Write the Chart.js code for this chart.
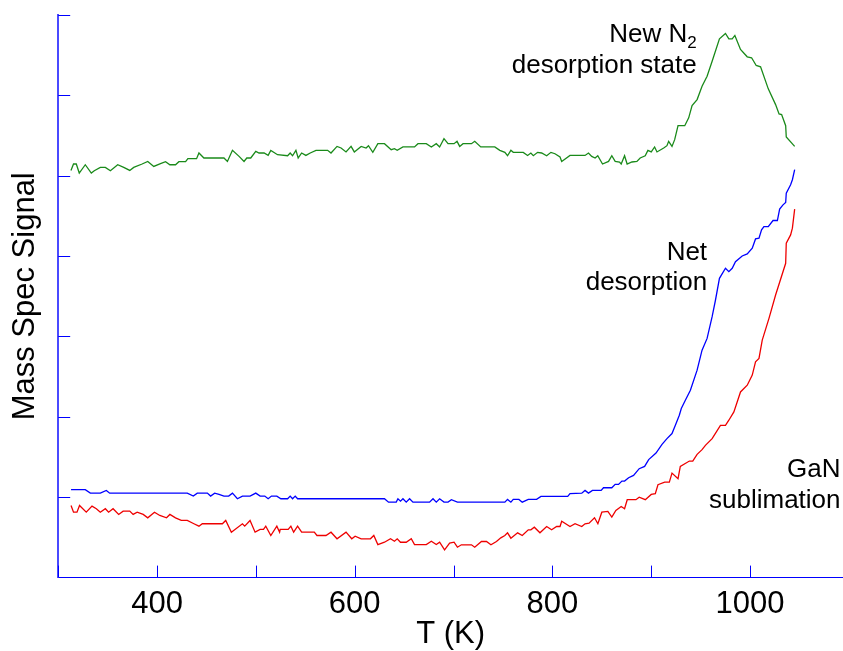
<!DOCTYPE html>
<html>
<head>
<meta charset="utf-8">
<script src="https://cdn.jsdelivr.net/npm/chart.js@4/dist/chart.umd.min.js"></script>
<style>
  html, body { margin: 0; padding: 0; background: #fff; }
  #wrap { width: 843px; height: 651px; }
</style>
</head>
<body>
<div id="wrap"><canvas id="tpdChart"></canvas></div>
<script>
// N2 desorption state (green)
const n2StateT = [312.9,315.5,318.3,321.3,327.4,333.5,336.5,342.6,347.7,352.8,
  360.2,366.3,372.4,376.4,384.9,390.6,396.7,403.5,408.6,413.0,
  418.7,422.1,428.9,431.2,440.0,442.4,447.4,467.7,471.2,476.3,
  483.0,488.0,490.8,494.8,499.9,503.2,508.3,512.4,515.1,521.9,
  532.1,534.7,537.1,540.5,542.8,546.3,550.6,555.0,560.8,572.6,
  576.0,582.1,586.2,591.2,596.3,599.6,606.5,611.5,613.9,618.3,
  623.4,630.1,636.9,640.2,643.0,648.8,660.5,664.0,672.4,677.5,
  682.5,685.9,690.3,694.4,700.5,703.5,706.2,709.6,718.1,721.4,
  727.5,741.7,746.8,751.9,754.6,758.0,760.4,770.5,774.9,778.2,
  780.7,785.0,789.1,794.2,798.5,802.6,807.7,809.4,817.8,833.0,
  836.5,839.8,843.2,845.9,850.7,856.8,860.1,863.5,867.9,869.6,
  873.0,875.6,880.4,885.5,888.8,893.9,896.6,900.0,903.4,905.8,
  912.6,915.9,917.6,921.0,923.7,927.1,933.9,937.9,941.3,946.4,
  951.4,956.5,961.6,969.0,975.1,978.5,981.9,984.6,990.3,997.1,
  1001.5,1006.2,1010.6,1018.4,1025.8,1029.3,1031.9,1036.0,1036.6,1045.1];
const n2StateSignal = [5.066,5.146,5.146,5.034,5.137,5.034,5.062,5.104,5.104,5.062,
  5.137,5.104,5.066,5.104,5.146,5.178,5.116,5.150,5.175,5.137,
  5.137,5.175,5.175,5.212,5.212,5.283,5.221,5.221,5.178,5.316,
  5.241,5.178,5.221,5.221,5.303,5.283,5.283,5.253,5.316,5.262,
  5.249,5.283,5.249,5.316,5.221,5.283,5.253,5.283,5.316,5.316,
  5.283,5.365,5.345,5.296,5.365,5.296,5.365,5.345,5.374,5.291,
  5.399,5.399,5.324,5.337,5.316,5.358,5.358,5.399,5.399,5.358,
  5.399,5.358,5.461,5.399,5.399,5.428,5.365,5.399,5.399,5.428,
  5.358,5.358,5.316,5.291,5.249,5.316,5.291,5.291,5.253,5.283,
  5.249,5.291,5.283,5.249,5.291,5.274,5.233,5.178,5.253,5.253,
  5.283,5.241,5.221,5.249,5.146,5.178,5.249,5.178,5.171,5.146,
  5.249,5.146,5.171,5.178,5.221,5.249,5.316,5.296,5.358,5.296,
  5.345,5.374,5.428,5.365,5.449,5.623,5.623,5.720,5.873,5.948,
  6.113,6.238,6.425,6.704,6.771,6.704,6.704,6.746,6.571,6.480,
  6.468,6.372,6.355,6.081,5.885,5.769,5.761,5.623,5.482,5.365];

// net desorption (blue)
const netT = [313.0,327.4,332.5,342.6,348.7,352.1,430.6,436.7,440.7,450.9,
  454.2,458.3,462.7,467.7,472.5,476.3,481.3,486.4,494.1,499.9,
  504.3,509.0,512.4,515.8,521.2,525.3,532.1,534.7,537.1,539.8,
  542.2,630.1,634.2,642.0,643.7,646.3,648.8,652.1,655.5,658.9,
  675.7,679.2,682.5,685.9,690.3,694.4,697.8,703.9,751.9,754.6,
  758.0,760.4,766.1,769.5,775.6,784.0,788.4,815.5,817.8,829.7,
  833.0,836.5,840.5,849.3,851.7,860.1,863.5,866.9,870.3,873.0,
  877.1,882.1,887.8,893.3,897.4,904.8,910.9,915.9,921.0,924.4,
  928.4,930.4,934.5,939.6,946.4,951.4,956.5,961.6,965.0,969.0,
  975.1,978.5,981.9,985.2,992.0,997.1,1002.2,1005.5,1009.0,1011.6,
  1014.0,1018.4,1023.2,1027.6,1029.9,1033.3,1036.0,1036.6,1041.0,1042.8,
  1045.1];
const netSignal = [1.094,1.094,1.051,1.051,1.085,1.051,1.051,1.014,1.051,1.051,
  1.014,1.051,1.035,1.014,1.014,1.051,0.981,1.014,1.014,1.051,
  1.014,1.014,0.981,1.014,1.014,0.981,0.981,1.014,0.981,1.014,
  0.981,0.981,0.939,0.939,0.981,0.951,0.981,0.939,0.981,0.939,
  0.939,0.981,0.939,0.981,0.939,0.939,0.969,0.939,0.939,0.973,
  0.939,0.973,0.973,0.939,0.973,0.973,1.010,1.010,1.044,1.051,
  1.085,1.051,1.085,1.085,1.118,1.118,1.160,1.160,1.201,1.201,
  1.243,1.272,1.355,1.384,1.468,1.550,1.658,1.729,1.792,1.895,
  2.020,2.103,2.207,2.332,2.581,2.830,2.976,3.246,3.454,3.724,
  3.849,3.807,3.849,3.931,4.002,4.027,4.099,4.214,4.223,4.327,
  4.368,4.368,4.443,4.443,4.585,4.638,4.667,4.784,4.888,4.950,
  5.075];

// GaN sublimation (red)
const sublT = [313.0,315.5,319.0,321.6,328.4,334.2,338.6,342.6,347.7,351.0,
  355.5,361.2,365.7,372.4,375.8,379.9,386.0,390.6,397.4,402.8,
  409.6,413.0,418.7,424.5,430.6,437.3,442.4,445.8,466.1,469.5,
  475.2,486.4,488.7,494.1,499.2,504.3,507.7,510.0,515.1,521.2,
  524.0,524.6,532.7,535.4,538.2,542.2,546.3,559.1,561.8,570.9,
  576.0,582.1,591.2,597.0,600.4,606.5,615.9,619.3,623.4,630.1,
  636.2,640.2,643.0,646.3,652.1,657.2,660.5,672.4,677.5,682.5,
  685.9,690.9,696.0,700.5,703.9,707.9,718.1,721.4,728.2,733.3,
  737.8,743.4,747.8,751.9,754.6,758.0,764.8,769.5,775.6,778.2,
  781.7,787.4,794.2,799.2,804.3,807.7,809.4,817.8,822.9,829.7,
  833.0,837.1,842.6,846.0,850.0,856.1,860.1,864.2,869.6,873.0,
  875.7,884.5,887.8,894.0,900.0,904.1,906.8,913.6,918.3,921.0,
  927.1,929.4,938.6,942.0,946.4,951.4,954.8,961.6,970.0,975.1,
  978.5,983.6,990.3,997.1,1002.2,1005.5,1009.0,1012.3,1019.1,1025.8,
  1036.0,1036.6,1041.0,1042.8,1045.1];
const sublSignal = [0.898,0.814,0.814,0.898,0.814,0.889,0.857,0.814,0.857,0.814,
  0.857,0.786,0.827,0.827,0.786,0.814,0.786,0.744,0.814,0.773,
  0.744,0.786,0.744,0.711,0.711,0.670,0.640,0.670,0.670,0.711,
  0.565,0.670,0.640,0.711,0.565,0.599,0.599,0.640,0.524,0.640,
  0.565,0.599,0.599,0.640,0.565,0.640,0.565,0.565,0.524,0.524,
  0.565,0.483,0.565,0.483,0.515,0.483,0.483,0.524,0.411,0.440,
  0.483,0.453,0.483,0.440,0.440,0.483,0.411,0.411,0.453,0.411,
  0.440,0.345,0.428,0.440,0.378,0.408,0.408,0.378,0.449,0.449,
  0.408,0.449,0.495,0.524,0.557,0.490,0.557,0.524,0.595,0.595,
  0.627,0.557,0.636,0.595,0.636,0.636,0.702,0.636,0.670,0.636,
  0.670,0.677,0.744,0.670,0.814,0.823,0.752,0.835,0.885,0.857,
  0.969,0.969,1.001,0.969,1.035,1.044,1.156,1.188,1.188,1.300,
  1.231,1.384,1.450,1.450,1.534,1.592,1.646,1.729,1.895,1.895,
  1.958,2.061,2.310,2.394,2.519,2.685,2.727,2.955,3.226,3.516,
  3.911,4.161,4.264,4.348,4.585];

// axis ticks (inward marks), labelled x ticks
const xTickValues = [300, 400, 500, 600, 700, 800, 900, 1000];
const xTickLabels = [400, 600, 800, 1000];
const yTickValues = [1, 2, 3, 4, 5, 6, 7];

const FONT = "'Liberation Sans', Arial, sans-serif";
const toPoints = (xs, ys) => xs.map((x, i) => ({ x: x, y: ys[i] }));

// text labels placed in data units
const notes = [
  { lines: ["New N", "desorption state"], sub: "2", x: 946, y: [6.67, 6.28] },
  { lines: ["Net", "desorption"], x: 956.5, y: [3.95, 3.58] },
  { lines: ["GaN", "sublimation"], x: 1091.5, y: [1.25, 0.86] }
];

const overlay = {
  id: 'overlay',
  afterDatasetsDraw(chart) {
    const ctx = chart.ctx;
    const xs = chart.scales.x, ys = chart.scales.y;
    const area = chart.chartArea;
    ctx.save();
    // tick marks pointing into the plot
    ctx.strokeStyle = '#0000ff';
    ctx.lineWidth = 1;
    ctx.beginPath();
    yTickValues.forEach(v => {
      const py = Math.round(ys.getPixelForValue(v)) + 0.5;
      ctx.moveTo(area.left, py);
      ctx.lineTo(area.left + 12, py);
    });
    xTickValues.forEach(v => {
      const px = Math.round(xs.getPixelForValue(v)) + 0.5;
      ctx.moveTo(px, area.bottom);
      ctx.lineTo(px, area.bottom - 12);
    });
    ctx.stroke();

    // annotations
    ctx.fillStyle = '#000';
    ctx.textBaseline = 'alphabetic';
    notes.forEach(n => {
      const px = xs.getPixelForValue(n.x);
      n.lines.forEach((t, i) => {
        const py = ys.getPixelForValue(n.y[i]);
        ctx.font = '26px ' + FONT;
        if (i === 0 && n.sub) {
          ctx.font = '17px ' + FONT;
          const sw = ctx.measureText(n.sub).width;
          ctx.textAlign = 'left';
          ctx.fillText(n.sub, px - sw, py + 6);
          ctx.font = '26px ' + FONT;
          ctx.textAlign = 'right';
          ctx.fillText(t, px - sw, py);
        } else {
          ctx.textAlign = 'right';
          ctx.fillText(t, px, py);
        }
      });
    });
    ctx.restore();
  }
};

const ctx = document.getElementById('tpdChart').getContext('2d');
const chart = new Chart(ctx, {
  type: 'line',
  data: {
    datasets: [
      { label: 'New N2 desorption state', data: toPoints(n2StateT, n2StateSignal),
        borderColor: '#1a8a1a', borderWidth: 1.3 },
      { label: 'Net desorption', data: toPoints(netT, netSignal),
        borderColor: '#0000ff', borderWidth: 1.3 },
      { label: 'GaN sublimation', data: toPoints(sublT, sublSignal),
        borderColor: '#ee0000', borderWidth: 1.3 }
    ]
  },
  options: {
    responsive: true,
    maintainAspectRatio: false,
    animation: false,
    elements: { point: { radius: 0 }, line: { tension: 0 } },
    layout: { autoPadding: false, padding: { top: 15, right: 0, bottom: -2, left: 0 } },
    plugins: { legend: { display: false }, tooltip: { enabled: false } },
    scales: {
      x: {
        type: 'linear',
        min: 300,
        max: 1094,
        grid: { display: false, drawTicks: false },
        border: { display: true, color: '#0000ff', width: 1 },
        afterBuildTicks: axis => { axis.ticks = xTickValues.map(v => ({ value: v })); },
        ticks: {
          autoSkip: false,
          maxRotation: 0,
          padding: 8,
          color: '#000',
          font: { family: FONT, size: 31 },
          callback: value => xTickLabels.includes(value) ? String(value) : ''
        },
        title: {
          display: true,
          text: 'T (K)',
          color: '#000',
          font: { family: FONT, size: 31 },
          padding: { top: -15, bottom: 0 }
        }
      },
      y: {
        min: 0,
        max: 7,
        grid: { display: false, drawTicks: false },
        border: { display: true, color: '#4a4aff', width: 2 },
        ticks: { display: false, stepSize: 1 },
        title: {
          display: true,
          text: 'Mass Spec Signal',
          color: '#000',
          font: { family: FONT, size: 31 },
          padding: { top: 7, bottom: 14 }
        }
      }
    }
  },
  plugins: [overlay]
});
</script>
</body>
</html>
